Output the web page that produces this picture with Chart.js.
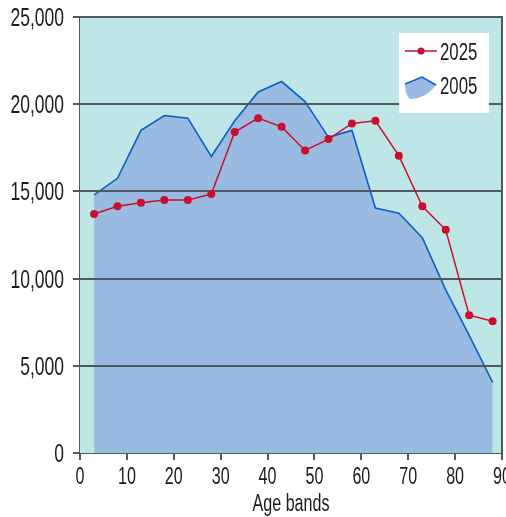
<!DOCTYPE html>
<html>
<head>
<meta charset="utf-8">
<script src="https://cdn.jsdelivr.net/npm/chart.js@4.4.1/dist/chart.umd.min.js"></script>
<style>
  html, body { margin:0; padding:0; background:#fff; }
  #wrap { width:506px; height:517px; }
</style>
</head>
<body>
<div id="wrap"><canvas id="c" width="506" height="517"></canvas></div>
<script>
// ====== DATA ======
const ageMid   = [3, 8, 13, 18, 23, 28, 33, 38, 43, 48, 53, 58, 63, 68, 73, 78, 83, 88];
const pop2025  = [13700, 14150, 14350, 14500, 14500, 14850, 18400, 19200, 18700, 17350, 18000, 18900, 19050, 17050, 14150, 12800, 7900, 7550];
const pop2005  = [14800, 15750, 18500, 19350, 19200, 17000, 19050, 20700, 21300, 20150, 18100, 18500, 14050, 13750, 12350, 9350, 6750, 4050];
const yTicks   = [0, 5000, 10000, 15000, 20000, 25000];
const xTicks   = [0, 10, 20, 30, 40, 50, 60, 70, 80, 90];
const labels   = ['2025', '2005'];
const xTitle   = 'Age bands';

// ====== COLOURS / TEXT ======
const plotBg   = '#bfe6e6';
const areaFill = '#99bbe1';
const blue     = '#0a60c2';
const red      = '#c8102e';
const gridCol  = '#4f5a60';
const FONT     = "'Liberation Sans', Arial, sans-serif";
const SX       = 0.7;   // condensed look

function pts(ys){ return ageMid.map((x, i) => ({ x: x, y: ys[i] })); }

// narrow text: squeeze horizontally
function txt(ctx, s, x, y, size, align){
  ctx.save();
  ctx.font = size + 'px ' + FONT;
  ctx.fillStyle = '#1a1a1a';
  ctx.textAlign = align;
  ctx.textBaseline = 'alphabetic';
  ctx.translate(x, y);
  ctx.scale(SX, 1);
  ctx.fillText(s, 0, 0);
  ctx.restore();
}

const plotDeco = {
  id: 'plotDeco',
  beforeDatasetsDraw(chart){
    const { ctx, chartArea: a } = chart;
    ctx.save();
    ctx.fillStyle = plotBg;
    ctx.fillRect(a.left, a.top, a.right - a.left, a.bottom - a.top);
    ctx.restore();
  },
  // grid lines go over the 2005 area
  afterDatasetDraw(chart, args){
    if (args.index !== 1) return;
    const { ctx, chartArea: a, scales } = chart;
    ctx.save();
    ctx.strokeStyle = gridCol;
    ctx.lineWidth = 2;
    yTicks.forEach(v => {
      if (v === 0) return;
      const y = Math.round(scales.y.getPixelForValue(v));
      ctx.beginPath();
      ctx.moveTo(a.left, y);
      ctx.lineTo(a.right, y);
      ctx.stroke();
    });
    ctx.beginPath();
    ctx.moveTo(a.right, a.top - 1);
    ctx.lineTo(a.right, a.bottom);
    ctx.stroke();
    ctx.restore();
  },
  afterDraw(chart){
    const { ctx, chartArea: a, scales } = chart;
    // tick labels
    yTicks.forEach(v => {
      const y = scales.y.getPixelForValue(v);
      txt(ctx, v.toLocaleString('en-US'), 64, y + 9, 25, 'right');
    });
    xTicks.forEach(v => {
      const x = scales.x.getPixelForValue(v);
      txt(ctx, String(v), x, 484, 23, 'center');
    });
    txt(ctx, xTitle, (a.left + a.right) / 2, 511, 23, 'center');

    // legend
    ctx.save();
    ctx.fillStyle = '#fff';
    ctx.fillRect(399, 33, 90, 80);
    ctx.strokeStyle = red; ctx.lineWidth = 1.5;
    ctx.beginPath(); ctx.moveTo(405, 51); ctx.lineTo(437, 51); ctx.stroke();
    ctx.fillStyle = red;
    ctx.beginPath(); ctx.arc(421, 51, 3.5, 0, Math.PI * 2); ctx.fill();
    ctx.fillStyle = areaFill;
    ctx.beginPath();
    ctx.moveTo(405, 84); ctx.lineTo(422, 77); ctx.lineTo(436, 85);
    ctx.quadraticCurveTo(425, 99, 410, 99);
    ctx.quadraticCurveTo(405, 95, 405, 84);
    ctx.fill();
    ctx.strokeStyle = blue; ctx.lineWidth = 1.5;
    ctx.beginPath(); ctx.moveTo(405, 84); ctx.lineTo(422, 77); ctx.lineTo(436, 85); ctx.stroke();
    ctx.restore();
    txt(ctx, labels[0], 440, 60, 24, 'left');
    txt(ctx, labels[1], 440, 94, 24, 'left');
  }
};

new Chart(document.getElementById('c'), {
  type: 'line',
  data: {
    datasets: [
      {
        label: labels[0],
        data: pts(pop2025),
        borderColor: red,
        backgroundColor: red,
        borderWidth: 1.5,
        pointRadius: 4,
        pointBackgroundColor: red,
        pointBorderWidth: 0,
        fill: false,
        tension: 0
      },
      {
        label: labels[1],
        data: pts(pop2005),
        borderColor: blue,
        backgroundColor: areaFill,
        borderWidth: 1.6,
        pointRadius: 0,
        fill: 'origin',
        tension: 0
      }
    ]
  },
  options: {
    responsive: false,
    animation: false,
    layout: { padding: { top: 17, right: 4, left: 0, bottom: 0 } },
    plugins: {
      legend: { display: false },
      tooltip: { enabled: false }
    },
    scales: {
      x: {
        type: 'linear',
        min: 0, max: 90,
        afterFit: s => { s.height = 64; s.paddingLeft = 0; s.paddingRight = 0; },
        afterBuildTicks: s => { s.ticks = xTicks.map(v => ({ value: v })); },
        ticks: { display: false },
        grid: { drawOnChartArea: false, drawTicks: true, tickLength: 7, color: gridCol, lineWidth: 2 },
        border: { color: gridCol, width: 2 }
      },
      y: {
        min: 0, max: 25000,
        afterFit: s => { s.width = 80; s.paddingTop = 0; s.paddingBottom = 0; },
        afterBuildTicks: s => { s.ticks = yTicks.map(v => ({ value: v })); },
        ticks: { display: false },
        grid: { drawOnChartArea: false, drawTicks: true, tickLength: 7, color: gridCol, lineWidth: 2 },
        border: { color: gridCol, width: 2 }
      }
    }
  },
  plugins: [plotDeco]
});
</script>
</body>
</html>
